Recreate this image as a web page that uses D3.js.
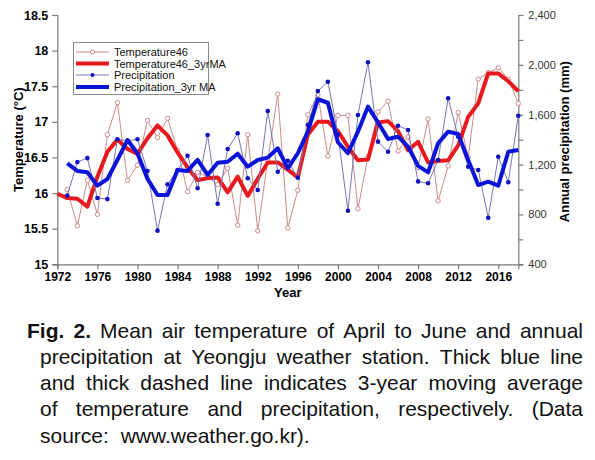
<!DOCTYPE html>
<html><head><meta charset="utf-8">
<script src="https://cdn.jsdelivr.net/npm/d3@7"></script>
<style>
html,body{margin:0;padding:0;background:#fff;}
svg{display:block;}
</style></head>
<body>
<svg id="chart" width="595" height="460"></svg>
<script>
// ---------- DATA ----------
const tempYears = [1973,1974,1975,1976,1977,1978,1979,1980,1981,1982,1983,1984,1985,1986,1987,1988,1989,1990,1991,1992,1993,1994,1995,1996,1997,1998,1999,2000,2001,2002,2003,2004,2005,2006,2007,2008,2009,2010,2011,2012,2013,2014,2015,2016,2017,2018];
const temperature46 = [16.05,15.54,16.18,15.70,16.82,17.27,16.18,16.39,17.02,16.78,17.05,16.60,16.02,16.29,16.23,16.12,16.35,15.55,16.82,15.47,16.46,17.39,15.51,16.04,17.10,17.38,16.52,17.09,17.09,15.78,16.51,17.14,17.29,16.59,16.79,16.36,17.04,15.89,16.38,17.13,16.50,17.60,17.69,17.76,17.60,17.26];
const tempMAYears = [1972,1973,1974,1975,1976,1977,1978,1979,1980,1981,1982,1983,1984,1985,1986,1987,1988,1989,1990,1991,1992,1993,1994,1995,1996,1997,1998,1999,2000,2001,2002,2003,2004,2005,2006,2007,2008,2009,2010,2011,2012,2013,2014,2015,2016,2017,2018];
const temperature46_3yrMA = [15.99,15.93,15.92,15.81,16.23,16.58,16.75,16.62,16.55,16.77,16.95,16.81,16.57,16.36,16.18,16.21,16.22,16.01,16.23,15.96,16.20,16.43,16.43,16.33,16.22,16.82,17.00,17.00,16.87,16.65,16.46,16.47,16.99,17.01,16.87,16.60,16.72,16.43,16.45,16.46,16.67,17.07,17.26,17.68,17.68,17.57,17.43];
const precipYears = [1973,1974,1975,1976,1977,1978,1979,1980,1981,1982,1983,1984,1985,1986,1987,1988,1989,1990,1991,1992,1993,1994,1995,1996,1997,1998,1999,2000,2001,2002,2003,2004,2005,2006,2007,2008,2009,2010,2011,2012,2013,2014,2015,2016,2017,2018];
const precipitation = [952,1220,1252,932,923,1403,1390,1403,1149,670,1042,1156,1271,1010,1437,886,1325,1451,1090,996,1630,1143,1231,1095,1518,1790,1865,1443,830,1598,2021,1384,1303,1512,1477,1065,1050,1237,1732,1423,1183,1157,774,1263,1058,1592];
const precipitation_3yrMA = [1210,1149,1138,1031,1084,1237,1397,1291,1085,956,956,1157,1149,1237,1117,1215,1223,1287,1183,1237,1256,1331,1170,1291,1464,1724,1696,1379,1291,1464,1665,1539,1405,1424,1344,1190,1138,1371,1464,1445,1237,1036,1063,1031,1303,1317];

const xTicks = [1972,1976,1980,1984,1988,1992,1996,2000,2004,2008,2012,2016];
const tempTicks = [15,15.5,16,16.5,17,17.5,18,18.5];
const precipTicks = [400,600,800,1000,1200,1400,1600,1800,2000,2200,2400];
const precipLabelTicks = [400,800,1200,1600,2000,2400];
const legendLabels = ["Temperature46","Temperature46_3yrMA","Precipitation","Precipitation_3yr MA"];
const captionLines = [
  {bold:"Fig. 2.", text:"Mean air temperature of April to June and annual", justify:true},
  {text:"precipitation at Yeongju weather station. Thick blue line", justify:true},
  {text:"and thick dashed line indicates 3-year moving average", justify:true},
  {text:"of temperature and precipitation, respectively. (Data", justify:true},
  {text:"source:  www.weather.go.kr).", justify:false}
];

// ---------- LAYOUT ----------
const svg = d3.select("#chart");
const L = 57.3, R = 518.3, T = 15, B = 264.3;
const FONT = "'Liberation Sans', Arial, sans-serif";
const x = d3.scaleLinear().domain([1972, 2018]).range([L, R]);
const yT = d3.scaleLinear().domain([15, 18.5]).range([B, T]);
const yP = d3.scaleLinear().domain([400, 2400]).range([B, T]);

const axisColor = "#7a7a7a";

const gx = svg.append("g").attr("transform", `translate(0,${B})`)
  .call(d3.axisBottom(x).tickValues(xTicks).tickFormat(d3.format("d")).tickSizeOuter(0).tickSize(5).tickPadding(3));
const gy = svg.append("g").attr("transform", `translate(${L},0)`)
  .call(d3.axisLeft(yT).tickValues(tempTicks).tickFormat(d => String(d)).tickSizeOuter(0).tickSize(5).tickPadding(4));
const gr = svg.append("g").attr("transform", `translate(${R},0)`)
  .call(d3.axisRight(yP).tickValues(precipTicks).tickFormat(d => precipLabelTicks.includes(d) ? d3.format(",")(d) : "").tickSizeOuter(0).tickSize(5).tickPadding(5));

[gx, gy, gr].forEach(g => {
  g.select(".domain").attr("stroke", axisColor).attr("stroke-width", 1.2);
  g.selectAll(".tick line").attr("stroke", axisColor).attr("stroke-width", 1.2);
  g.selectAll("text").attr("font-family", FONT).attr("fill", "#000");
});
gx.selectAll("text").attr("font-size", 12).attr("font-weight", "bold");
gy.selectAll("text").attr("font-size", 12.5).attr("font-weight", "bold");
gr.selectAll("text").attr("font-size", 11).attr("fill", "#333");

svg.append("text").attr("x", (L + R) / 2).attr("y", 297).attr("text-anchor", "middle")
  .attr("font-family", FONT).attr("font-size", 13).attr("font-weight", "bold").text("Year");
svg.append("text").attr("transform", `translate(23,${(T + B) / 2}) rotate(-90)`).attr("text-anchor", "middle")
  .attr("font-family", FONT).attr("font-size", 13).attr("font-weight", "bold").text("Temperature (°C)");
svg.append("text").attr("transform", `translate(569,${(T + B) / 2 + 2}) rotate(-90)`).attr("text-anchor", "middle")
  .attr("font-family", FONT).attr("font-size", 13).attr("font-weight", "bold").text("Annual precipitation (mm)");

// ---------- SERIES ----------
const colThinT = "#cc8a8a", colMAT = "#e8191c", colThinP = "#7676b8", colDotP = "#1010c0", colMAP = "#0a14d8";

const tData = tempYears.map((yr, i) => ({yr, v: temperature46[i]}));
const tmaData = tempMAYears.map((yr, i) => ({yr, v: temperature46_3yrMA[i]}));
const pData = precipYears.map((yr, i) => ({yr, v: precipitation[i]}));
const pmaData = precipYears.map((yr, i) => ({yr, v: precipitation_3yrMA[i]}));

const lineT = d3.line().x(d => x(d.yr)).y(d => yT(d.v));
const lineP = d3.line().x(d => x(d.yr)).y(d => yP(d.v));

svg.append("path").datum(tData).attr("d", lineT).attr("fill", "none").attr("stroke", colThinT).attr("stroke-width", 1);
svg.selectAll(".tpt").data(tData).enter().append("circle").attr("class", "tpt")
  .attr("cx", d => x(d.yr)).attr("cy", d => yT(d.v)).attr("r", 2.2)
  .attr("fill", "#fff").attr("stroke", colThinT).attr("stroke-width", 1);
svg.append("path").datum(tmaData).attr("d", lineT).attr("fill", "none").attr("stroke", colMAT).attr("stroke-width", 4).attr("stroke-linejoin", "round");

svg.append("path").datum(pData).attr("d", lineP).attr("fill", "none").attr("stroke", colThinP).attr("stroke-width", 1);
svg.selectAll(".ppt").data(pData).enter().append("circle").attr("class", "ppt")
  .attr("cx", d => x(d.yr)).attr("cy", d => yP(d.v)).attr("r", 2.3).attr("fill", colDotP);
svg.append("path").datum(pmaData).attr("d", lineP).attr("fill", "none").attr("stroke", colMAP).attr("stroke-width", 4).attr("stroke-linejoin", "round");

// ---------- LEGEND ----------
const lg = svg.append("g");
lg.append("rect").attr("x", 73.5).attr("y", 42.5).attr("width", 135).attr("height", 52)
  .attr("fill", "#fff").attr("stroke", "#8a8a8a").attr("stroke-width", 1);
const legendStyles = [
  {stroke: colThinT, w: 1, marker: "open"},
  {stroke: colMAT, w: 4, marker: null},
  {stroke: colThinP, w: 1, marker: "dot"},
  {stroke: colMAP, w: 4, marker: null}
];
const legendY = [52, 63.5, 75, 87];
legendLabels.forEach((lab, i) => {
  const yy = legendY[i], s = legendStyles[i];
  lg.append("line").attr("x1", 76).attr("x2", 109).attr("y1", yy).attr("y2", yy)
    .attr("stroke", s.stroke).attr("stroke-width", s.w);
  if (s.marker === "open") lg.append("circle").attr("cx", 92.5).attr("cy", yy).attr("r", 2).attr("fill", "#fff").attr("stroke", s.stroke);
  if (s.marker === "dot") lg.append("circle").attr("cx", 92.5).attr("cy", yy).attr("r", 2).attr("fill", colDotP);
  lg.append("text").attr("x", 114).attr("y", yy + 4).attr("font-family", FONT).attr("font-size", 11).attr("fill", "#111").text(lab);
});

// ---------- CAPTION ----------
const capFont = 21;
const baselines = [338, 364, 390, 416, 443];
captionLines.forEach((ln, i) => {
  const startX = i === 0 ? 27 : 40, endX = 583;
  const words = [];
  if (ln.bold) ln.bold.split(" ").forEach(w => words.push({w, bold: true}));
  ln.text.split(/ +/).forEach(w => words.push({w, bold: false}));
  const nodes = words.map(wd => svg.append("text").attr("y", baselines[i]).attr("font-family", FONT)
    .attr("font-size", capFont).attr("font-weight", wd.bold ? "bold" : "normal").attr("fill", "#111").text(wd.w));
  const widths = nodes.map(n => n.node().getComputedTextLength());
  const total = d3.sum(widths);
  const natGap = capFont * 0.28;
  let gap = ln.justify ? (endX - startX - total) / (words.length - 1) : natGap;
  let sx = 1;
  if (ln.justify && gap < 4) {
    // compress slightly so the line fits with a minimum gap
    gap = 4;
    sx = (endX - startX - gap * (words.length - 1)) / total;
  }
  let cx = startX;
  nodes.forEach((n, k) => {
    if (sx !== 1) n.attr("transform", `translate(${cx},0) scale(${sx},1)`).attr("x", 0);
    else n.attr("x", cx);
    cx += widths[k] * sx + gap + (!ln.justify && words[k].w.endsWith(":") ? natGap : 0);
  });
});
</script>
</body></html>
